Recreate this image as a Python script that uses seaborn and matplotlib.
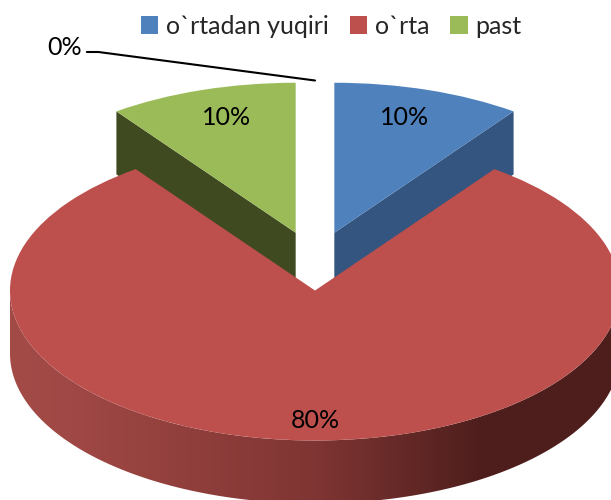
import matplotlib
matplotlib.use('Agg')
import matplotlib.pyplot as plt
from matplotlib.colors import LinearSegmentedColormap
from matplotlib.patches import Polygon
import numpy as np
import seaborn as sns

# chart values, the last slice has no name and is only shown as 0%
categories = ['o`rtadan yuqiri', 'o`rta', 'past']
values = [10, 80, 10, 0]
slice_colors = ['#4f81bd', '#bd4f4c', '#9bbb59', '#f79646']

sns.set_theme(style='white')
plt.rcParams['font.family'] = ['Lato', 'DejaVu Sans']

depth = 0.42  # pie height, in the squashed y units

fig = plt.figure(figsize=(6.11, 5), dpi=100)
ax = fig.add_axes([0, 0, 1, 1])

wedges, texts, autotexts = ax.pie(
    values, colors=slice_colors, startangle=90, counterclock=False,
    explode=[0.205, 0.19, 0.205, 0.19], autopct='%d%%', pctdistance=0.83,
    wedgeprops={'linewidth': 0, 'zorder': 1},
    textprops={'fontsize': 18, 'color': 'black'})

# one unit is 305 px across but only 150 px down, that gives the tilt
ax.set_aspect('auto')
xlim = (-315 / 305, 296 / 305)
ylim = (-238 / 150, 262 / 150)


def radial_wall(w, angle, color):
    cx, cy = w.center
    rx = cx + w.r * np.cos(np.radians(angle))
    ry = cy + w.r * np.sin(np.radians(angle))
    pts = [(cx, cy), (rx, ry), (rx, ry - depth), (cx, cy - depth)]
    ax.add_patch(Polygon(pts, facecolor=color, edgecolor='none', zorder=0.5))


radial_wall(wedges[0], wedges[0].theta1, '#34557f')
radial_wall(wedges[2], wedges[2].theta2, '#3f4a20')

# front wall of the big slice, gradient clipped to the rim
red = wedges[1]
t = np.radians(np.linspace(180, 360, 200))
rim_x = red.center[0] + red.r * np.cos(t)
rim_y = red.center[1] + red.r * np.sin(t)
rim = np.r_[np.c_[rim_x, rim_y], np.c_[rim_x, rim_y - depth][::-1]]
wall = Polygon(rim, facecolor='none', edgecolor='none', zorder=0.5)
ax.add_patch(wall)
shade = LinearSegmentedColormap.from_list(
    'wall', [(0, '#a34b47'), (0.1, '#a04845'), (0.5, '#7f3533'),
             (0.78, '#4d1e1c'), (1, '#4d1e1c')])
im = ax.imshow(np.linspace(0, 1, 256)[None, :], cmap=shade, aspect='auto',
               extent=(-1, 1, -2, 1), zorder=0.5)
im.set_clip_path(wall)

ax.set_xlim(xlim)
ax.set_ylim(ylim)
ax.set_axis_off()

# nudge the percent labels to where the original has them
for txt, (dx, dy) in zip(autotexts[:3], [(-0.027, -0.02), (0, -0.035), (0.03, -0.02)]):
    x, y = txt.get_position()
    txt.set_position((x + dx, y + dy))

# 0% label sits away from the pie with a leader line
zero = wedges[3]
autotexts[3].set_position((-0.82, 1.43))
ax.plot([-0.748, -0.71, zero.center[0]], [1.4, 1.4, zero.center[1] + zero.r + 0.02],
        color='black', lw=1.5, zorder=3)

ax.legend(wedges[:3], categories, loc='center', bbox_to_anchor=(0.542, 0.948),
          ncol=3, frameon=False, fontsize=18, handlelength=0.7, handleheight=0.7,
          handletextpad=0.3, columnspacing=0.85, borderpad=0, borderaxespad=0)

fig.savefig('out.png', dpi=100)
